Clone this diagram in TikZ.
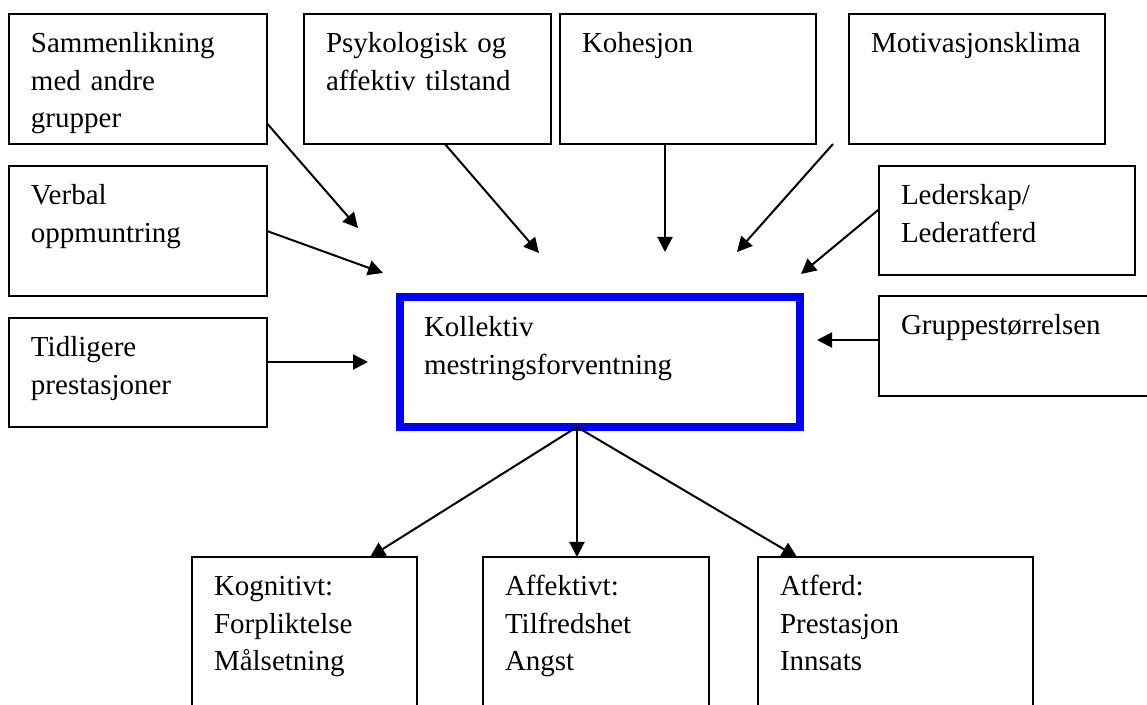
\documentclass[tikz,border=0pt]{standalone}
\usepackage{fontspec}
\setmainfont{Liberation Serif}
\usetikzlibrary{positioning, arrows.meta, calc}

\begin{document}
\begin{tikzpicture}[x=0.5pt, y=-0.5pt, >={Triangle[length=7.5pt,width=7.5pt]},
    font=\fontsize{14.5}{18.75}\selectfont]
  \tikzstyle{box}=[draw, line width=0.7pt, outer sep=0pt, anchor=north west,
    inner xsep=11pt, inner ysep=0pt, align=left, text height=19.5pt]
  \tikzstyle{arr}=[->, line width=1pt]
  \useasboundingbox (0,0) rectangle (1147,705);
  \clip (0,0) rectangle (1147,705);

  % kilder
  \node[box, text width=107pt, text depth=45.5pt] (Sam) at (9,14)
    {Sammenlikning\\med andre\\grupper};
  \node[box, right=18.5pt of Sam.north east, anchor=north west,
    text width=101.5pt, text depth=45.5pt] (Psy) {Psykologisk og\\affektiv tilstand};
  \node[box, right=4.5pt of Psy.north east, anchor=north west,
    text width=106pt, text depth=45.5pt] (Koh) {Kohesjon};
  \node[box, right=16.5pt of Koh.north east, anchor=north west,
    text width=106pt, text depth=45.5pt] (Mot) {Motivasjonsklima};
  \node[box, below=11pt of Sam.south west, anchor=north west,
    text width=107pt, text depth=45.5pt] (Verb) {Verbal\\oppmuntring};
  \node[box, below=11pt of Verb.south west, anchor=north west,
    text width=107pt, text depth=35pt] (Tid) {Tidligere\\prestasjoner};
  \node[box, text width=106pt, text depth=35pt] (Led) at (879,166)
    {Lederskap/\\Lederatferd};
  \node[box, text width=123pt, text depth=30.5pt] (Grp) at (879,296)
    {Gruppestørrelsen};

  % midten
  \node[box, draw=blue, line width=4pt, inner xsep=12pt, text width=176pt,
    text height=20pt, text depth=45pt] (KM) at (400,297)
    {Kollektiv\\mestringsforventning};

  % utfall
  \node[box, text width=90.5pt, text depth=80.5pt] (Kog) at (192,557)
    {Kognitivt:\\Forpliktelse\\Målsetning};
  \node[box, text width=91pt, text depth=80.5pt] (Aff) at (483,557)
    {Affektivt:\\Tilfredshet\\Angst};
  \node[box, text width=115.5pt, text depth=80.5pt] (Atf) at (758,557)
    {Atferd:\\Prestasjon\\Innsats};

  \coordinate (tSam) at (358,228);
  \coordinate (tVerb) at (383,273);
  \coordinate (tTid) at (368,362);
  \coordinate (tPsy) at (539,253);
  \coordinate (tKoh) at (665,252);
  \coordinate (tMot) at (737,252);
  \coordinate (tLed) at (801,274);
  \coordinate (tGrp) at (817,340);
  \coordinate (sMot) at ($(Mot.south west)+(-16,0)$);
  \coordinate (cb) at ($(KM.south)+(-23,0)$);

  \draw[arr] (Sam.-19) -- (tSam);
  \draw[arr] (Verb.east) -- (tVerb);
  \draw[arr] (Tid.east |- tTid) -- (tTid);
  \draw[arr] (Psy.-75) -- (tPsy);
  \draw[arr] (Koh.south -| tKoh) -- (tKoh);
  \draw[arr] (sMot) -- (tMot);
  \draw[arr] (Led.175) -- (tLed);
  \draw[arr] (Grp.west |- tGrp) -- (tGrp);

  \draw[arr] (cb) -- ($(Kog.north west)+(178,0)$);
  \draw[arr] (cb) -- (Aff.north -| cb);
  \draw[arr] (cb) -- ($(Atf.north west)+(39,0)$);

\end{tikzpicture}
\end{document}
